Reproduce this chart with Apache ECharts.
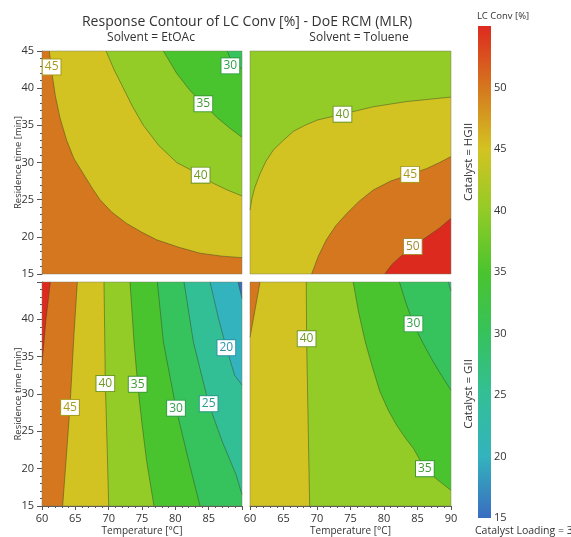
<!DOCTYPE html>
<html>
<head>
<meta charset="utf-8">
<script src="https://cdn.jsdelivr.net/npm/echarts@6/dist/echarts.min.js"></script>
<style>
  html, body { margin: 0; padding: 0; background: #fff; }
  #main { width: 571px; height: 537px; }
</style>
</head>
<body>
<div id="main"></div>
<script>
// axis ranges
const tempRange = [60, 90];
const timeRange = [15, 45];

// colour scale: level -> colour (a band takes the colour of its upper level)
const levels = [15, 20, 25, 30, 35, 40, 45, 50, 55];
const levelColors = ['#3a6cc0', '#33b3bd', '#33bf96', '#36c25c', '#4ac42e', '#93cb27', '#d3c322', '#d5771e', '#dd2a1f'];
const colorbarTicks = [15, 20, 25, 30, 35, 40, 45, 50];

// contour lines, [temperature, residence time]
// Solvent = EtOAc, Catalyst = HGII
const tlC45 = [[61.1, 45], [61.5, 42], [62, 39], [62.7, 36], [63.7, 33], [64.8, 30.5], [66.2, 28.5], [67.5, 26.6], [68.7, 25],
  [70.5, 23.3], [72.7, 21.8], [75, 20.6], [77.2, 19.6], [80.5, 18.6], [83.7, 17.8], [87, 17.4], [90, 17.2]];
const tlC40 = [[69.6, 45], [70.8, 42.5], [72.2, 40], [73.6, 37.5], [75.2, 35], [77.5, 32.3], [80.2, 30], [83.8, 28.3],
  [85.7, 27.2], [87.8, 26.3], [90, 25.5]];
const tlC35 = [[78.2, 45], [80.2, 42], [82.2, 39.7], [84.2, 37.9], [86.2, 36.1], [88.2, 34.6], [90, 33.4]];
const tlC30 = [[87.8, 45], [88.4, 43.6], [90, 42.6]];
const tlLabels = [[61.45, 42.85, 45], [88.25, 43, 30], [84.2, 37.9, 35], [83.8, 28.3, 40]];

// Solvent = Toluene, Catalyst = HGII
const trC50 = [[80.1, 15], [81.2, 16.3], [82.4, 17.3], [84.3, 18.7], [86.4, 20], [88.3, 21.2], [90, 22.5]];
const trC45 = [[69.2, 15], [70.2, 17.4], [71.4, 19.6], [72.8, 21.5], [74.4, 23.1], [76.3, 24.8], [78.4, 26.3], [81, 27.5],
  [83.9, 28.4], [86.4, 29.2], [88.3, 30], [90, 30.8]];
const trC40 = [[60, 23.6], [60.3, 25.2], [60.7, 26.6], [61.5, 28.5], [62.4, 30.2], [63.5, 31.7], [65, 33], [66.5, 34.2],
  [68.2, 35], [70, 35.7], [73.8, 36.5], [78.4, 37.5], [83.4, 38.2], [90, 38.8]];
const trLabels = [[73.8, 36.5, 40], [83.9, 28.4, 45], [84.3, 18.7, 50]];

// Solvent = EtOAc, Catalyst = GII
const blC50 = [[61.25, 45], [60.6, 40], [60, 34]];
const blC45 = [[65.3, 45], [64.8, 38], [64.2, 28.3], [63.6, 21], [63.1, 15]];
const blC40 = [[69.3, 45], [69.5, 31.4], [69.8, 22], [70, 15]];
const blC35 = [[73.2, 45], [73.8, 37], [74.35, 31.3], [75, 26], [75.7, 21], [76.8, 15]];
const blC30 = [[77.3, 45], [78.2, 37], [80.1, 28.1], [81.9, 21.4], [83.7, 15]];
const blC25 = [[81.3, 45], [82.7, 37], [85, 28.7], [87.05, 23.6], [89.15, 19.1], [90, 16.5]];
const blC20 = [[85.2, 45], [86.5, 40], [87.65, 36.2], [88.9, 32.5], [90, 31.2]];
const blC15 = [[89.4, 45], [90, 42.8]];
const blLabels = [[64.2, 28.2, 45], [69.5, 31.4, 40], [74.35, 31.3, 35], [80.1, 28.1, 30], [85, 28.7, 25], [87.65, 36.2, 20]];

// Solvent = Toluene, Catalyst = GII
const brC45 = [[61.5, 45], [60.7, 41], [60, 37.6]];
const brC40 = [[68.4, 45], [68.45, 37.4], [68.7, 25], [68.9, 15]];
const brC35 = [[75.4, 45], [76.2, 41], [77.2, 37], [78.3, 33.5], [79.4, 30.3], [80.6, 27.9], [81.9, 25.8], [83.2, 24.1],
  [84.4, 22.7], [86.1, 20], [88, 18.5], [90, 17.1]];
const brC30 = [[82.3, 45], [83.3, 42.1], [84.4, 39.4], [85.7, 37], [87.1, 34.7], [88.5, 32.6], [90, 30.5]];
const brC25 = [[89.6, 45], [90, 43.8]];
const brLabels = [[68.45, 37.4, 40], [84.4, 39.4, 30], [86.1, 20, 35]];

const labelTextColors = { 20: '#2b93a8', 25: '#2a9a8c', 30: '#33a04a', 35: '#3f9c33', 40: '#6f9a25', 45: '#a99b1c', 50: '#a88a30' };
const FONT = '"Open Sans", "Noto Sans", sans-serif';

function colorAt(level) {
  const i = levels.indexOf(level);
  return levelColors[i < 0 ? 0 : i];
}

// position of a boundary point along the frame, clockwise from top-left
function perim(p) {
  const [xMin, xMax] = tempRange, [yMin, yMax] = timeRange, e = 1e-6;
  if (Math.abs(p[1] - yMax) < e) return (p[0] - xMin) / (xMax - xMin);
  if (Math.abs(p[0] - xMax) < e) return 1 + (yMax - p[1]) / (yMax - yMin);
  if (Math.abs(p[1] - yMin) < e) return 2 + (xMax - p[0]) / (xMax - xMin);
  return 3 + (p[1] - yMin) / (yMax - yMin);
}

function cornerWalk(tFrom, tTo, dir) {
  const corners = { tl: 0, tr: 1, br: 2, bl: 3 };
  const mod = v => ((v % 4) + 4) % 4;
  const span = dir > 0 ? mod(tTo - tFrom) : mod(tFrom - tTo);
  const out = [];
  Object.keys(corners).forEach(k => {
    const off = dir > 0 ? mod(corners[k] - tFrom) : mod(tFrom - corners[k]);
    if (off > 0 && off < span) out.push([off, k]);
  });
  return out.sort((a, b) => a[0] - b[0]).map(o => o[1]);
}

function makePanel(idx, lines, labels, lowCorner) {
  return {
    type: 'custom',
    coordinateSystem: 'cartesian2d',
    xAxisIndex: idx,
    yAxisIndex: idx,
    silent: true,
    data: [[tempRange[0], timeRange[0]]],
    renderItem: function (params, api) {
      const cornerPt = {
        tl: [tempRange[0], timeRange[1]], tr: [tempRange[1], timeRange[1]],
        br: [tempRange[1], timeRange[0]], bl: [tempRange[0], timeRange[0]]
      };
      const a = api.coord(cornerPt.tl), b = api.coord(cornerPt.br);
      const children = [];
      const top = Math.max.apply(null, lines.map(l => l.level));
      children.push({
        type: 'rect', shape: { x: a[0], y: a[1], width: b[0] - a[0], height: b[1] - a[1] },
        style: { fill: colorAt(top + 5) }
      });
      const sorted = lines.slice().sort((p, q) => q.level - p.level);
      sorted.forEach(l => {
        const tS = perim(l.pts[0]), tE = perim(l.pts[l.pts.length - 1]);
        let walk = cornerWalk(tE, tS, 1);
        if (walk.indexOf(lowCorner) < 0) walk = cornerWalk(tE, tS, -1);
        const poly = l.pts.concat(walk.map(k => cornerPt[k]));
        children.push({
          type: 'polygon', shape: { points: poly.map(p => api.coord(p)) },
          style: { fill: colorAt(l.level) }
        });
      });
      sorted.forEach(l => {
        children.push({
          type: 'polyline', shape: { points: l.pts.map(p => api.coord(p)) },
          style: { fill: null, stroke: 'rgba(55,70,35,0.6)', lineWidth: 0.8 }
        });
      });
      children.push({
        type: 'rect', shape: { x: a[0], y: a[1], width: b[0] - a[0], height: b[1] - a[1] },
        style: { fill: null, stroke: 'rgba(120,120,100,0.45)', lineWidth: 1 }
      });
      labels.forEach(lb => {
        const p = api.coord([lb[0], lb[1]]);
        const c = labelTextColors[lb[2]] || '#555';
        children.push({
          type: 'text', x: p[0], y: p[1],
          style: {
            text: String(lb[2]), fill: c, font: '12px ' + FONT,
            align: 'center', verticalAlign: 'middle',
            backgroundColor: '#fff', borderColor: c, borderWidth: 1, padding: [2, 2, 1, 2]
          }
        });
      });
      return { type: 'group', children: children };
    }
  };
}

const chart = echarts.init(document.getElementById('main'), null, { renderer: 'canvas' });

const grids = [
  { left: 42, top: 51, width: 200, height: 223 },
  { left: 250, top: 51, width: 201, height: 223 },
  { left: 42, top: 282, width: 200, height: 224 },
  { left: 250, top: 282, width: 201, height: 224 },
  { left: 478, top: 26, width: 13, height: 492 }
];

const axisColor = '#555';
const xAxes = [0, 1, 2, 3].map(i => {
  const on = i >= 2;
  return {
    type: 'value', gridIndex: i, min: tempRange[0], max: tempRange[1], interval: 5,
    axisLine: { show: on, onZero: false, lineStyle: { color: axisColor } },
    axisTick: { show: on, length: 4, lineStyle: { color: axisColor } },
    minorTick: { show: on, splitNumber: 5, length: 2, lineStyle: { color: axisColor } },
    axisLabel: {
      show: on, margin: 7, fontSize: 11, color: '#333', fontFamily: FONT,
      // the left panel leaves its last label to the right panel's first
      formatter: v => (i === 2 && v === tempRange[1] ? '' : String(v))
    },
    splitLine: { show: false },
    name: on ? 'Temperature [°C]' : '', nameLocation: 'middle', nameGap: 20, nameMoveOverlap: false,
    nameTextStyle: { fontSize: 10, color: '#333', fontFamily: FONT }
  };
});
xAxes.push({ type: 'value', gridIndex: 4, min: 0, max: 1, show: false });

const yAxes = [0, 1, 2, 3].map(i => {
  const on = i % 2 === 0;
  return {
    type: 'value', gridIndex: i, min: timeRange[0], max: timeRange[1], interval: 5,
    axisLine: { show: on, onZero: false, lineStyle: { color: axisColor } },
    axisTick: { show: on, length: 5, lineStyle: { color: axisColor } },
    minorTick: { show: on, splitNumber: 5, length: 2, lineStyle: { color: axisColor } },
    axisLabel: {
      show: on, margin: 8, fontSize: 11, color: '#333', fontFamily: FONT,
      // the lower panel leaves its top label to the upper panel's bottom one
      formatter: v => (i === 2 && v === timeRange[1] ? '' : String(v))
    },
    splitLine: { show: false },
    name: on ? 'Residence time [min]' : '', nameLocation: 'middle', nameGap: 19, nameMoveOverlap: false,
    nameTextStyle: { fontSize: 9.5, color: '#333', fontFamily: FONT }
  };
});
yAxes.push({
  type: 'value', gridIndex: 4, position: 'right', min: 15, max: 55, interval: 5,
  axisLine: { show: false }, axisTick: { show: false }, splitLine: { show: false },
  axisLabel: {
    margin: 3, fontSize: 11, color: '#333', fontFamily: FONT,
    formatter: v => (colorbarTicks.indexOf(v) >= 0 ? String(v) : '')
  }
});

const colorbar = {
  type: 'custom',
  coordinateSystem: 'cartesian2d',
  xAxisIndex: 4, yAxisIndex: 4, silent: true,
  data: [[0, levels[0]]],
  renderItem: function (params, api) {
    const lo = levels[0], hi = levels[levels.length - 1];
    const p0 = api.coord([0, lo]), p1 = api.coord([1, hi]);
    const stops = levels.map((l, i) => ({ offset: (l - lo) / (hi - lo), color: levelColors[i] }));
    return {
      type: 'rect',
      shape: { x: p0[0], y: p1[1], width: p1[0] - p0[0], height: p0[1] - p1[1] },
      style: { fill: new echarts.graphic.LinearGradient(0, 1, 0, 0, stops) }
    };
  }
};

const option = {
  animation: false,
  backgroundColor: '#fff',
  textStyle: { fontFamily: FONT },
  title: [
    { text: 'Response Contour of LC Conv [%] - DoE RCM (MLR)', left: 242, top: 10, textAlign: 'center',
      textStyle: { fontSize: 14, fontWeight: 'normal', color: '#333', fontFamily: FONT } },
    { text: 'Solvent = EtOAc', left: 146, top: 27, textAlign: 'center',
      textStyle: { fontSize: 12, fontWeight: 'normal', color: '#333', fontFamily: FONT } },
    { text: 'Solvent = Toluene', left: 354, top: 27, textAlign: 'center',
      textStyle: { fontSize: 12, fontWeight: 'normal', color: '#333', fontFamily: FONT } }
  ],
  graphic: [
    { type: 'text', x: 503, y: 16, style: { text: 'LC Conv [%]', font: '9.5px ' + FONT, fill: '#333', align: 'center', verticalAlign: 'middle' } },
    { type: 'text', x: 469, y: 162, rotation: Math.PI / 2, style: { text: 'Catalyst = HGII', font: '11.5px ' + FONT, fill: '#333', align: 'center', verticalAlign: 'middle' } },
    { type: 'text', x: 469, y: 394, rotation: Math.PI / 2, style: { text: 'Catalyst = GII', font: '11.5px ' + FONT, fill: '#333', align: 'center', verticalAlign: 'middle' } },
    { type: 'text', x: 475, y: 531, style: { text: 'Catalyst Loading = 3', font: '10.5px ' + FONT, fill: '#333', align: 'left', verticalAlign: 'middle' } }
  ],
  grid: grids,
  xAxis: xAxes,
  yAxis: yAxes,
  series: [
    makePanel(0, [{ level: 45, pts: tlC45 }, { level: 40, pts: tlC40 }, { level: 35, pts: tlC35 }, { level: 30, pts: tlC30 }], tlLabels, 'tr'),
    makePanel(1, [{ level: 50, pts: trC50 }, { level: 45, pts: trC45 }, { level: 40, pts: trC40 }], trLabels, 'tl'),
    makePanel(2, [{ level: 50, pts: blC50 }, { level: 45, pts: blC45 }, { level: 40, pts: blC40 }, { level: 35, pts: blC35 },
      { level: 30, pts: blC30 }, { level: 25, pts: blC25 }, { level: 20, pts: blC20 }, { level: 15, pts: blC15 }], blLabels, 'tr'),
    makePanel(3, [{ level: 45, pts: brC45 }, { level: 40, pts: brC40 }, { level: 35, pts: brC35 }, { level: 30, pts: brC30 },
      { level: 25, pts: brC25 }], brLabels, 'tr'),
    colorbar
  ]
};

chart.setOption(option);
</script>
</body>
</html>
